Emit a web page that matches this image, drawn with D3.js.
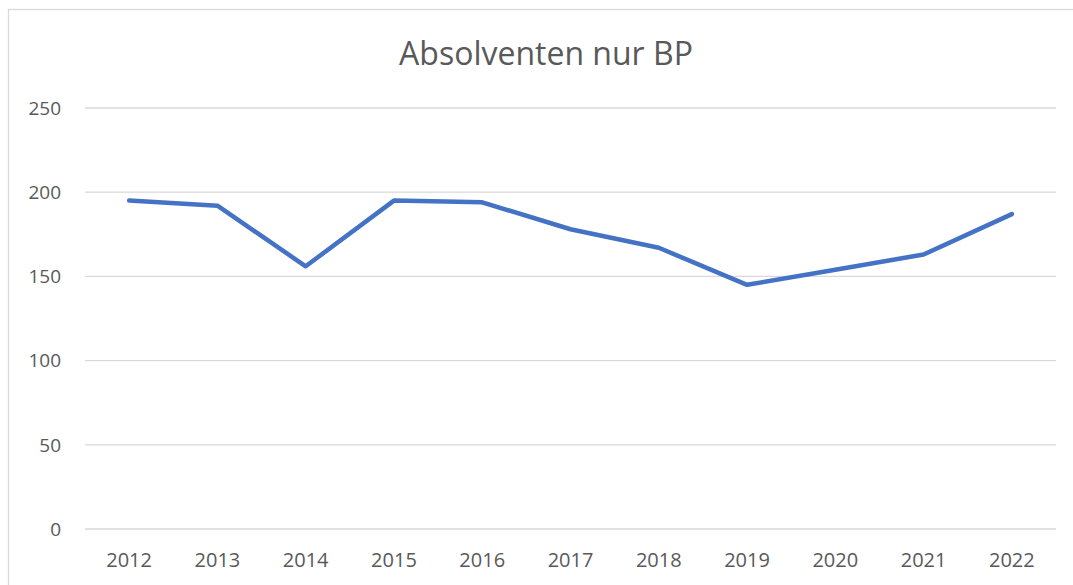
<!DOCTYPE html>
<html>
<head>
<meta charset="utf-8">
<script src="https://cdn.jsdelivr.net/npm/d3@7"></script>
<style>
  body { margin: 0; background: #fff; }
  text { font-family: "Open Sans", sans-serif; fill: #595959; }
</style>
</head>
<body>
<div id="graph-container"></div>
<script>
const years = ["2012", "2013", "2014", "2015", "2016", "2017", "2018", "2019", "2020", "2021", "2022"];
const absolventen = [195, 192, 156, 195, 194, 178, 167, 145, 154, 163, 187];
const yTicks = [0, 50, 100, 150, 200, 250];
const chartTitle = "Absolventen nur BP";

const width = 1073;
const height = 585;

const svg = d3.select("#graph-container")
    .append("svg")
    .attr("width", width)
    .attr("height", height);

// chart area border (continues beyond the window on the right and bottom)
svg.append("rect")
    .attr("x", 8.5)
    .attr("y", 9.5)
    .attr("width", 1100)
    .attr("height", 600)
    .attr("fill", "#fff")
    .attr("stroke", "#d9d9d9")
    .attr("stroke-width", 1.3);

const plotLeft = 85, plotRight = 1056, plotTop = 108, plotBottom = 529;

const xScale = d3.scaleBand()
    .domain(years)
    .range([plotLeft, plotRight]);

const yScale = d3.scaleLinear()
    .domain([0, 250])
    .range([plotBottom, plotTop]);

// gridlines
svg.append("g")
    .selectAll("line")
    .data(yTicks)
    .enter()
    .append("line")
    .attr("x1", plotLeft)
    .attr("x2", plotRight)
    .attr("y1", d => yScale(d))
    .attr("y2", d => yScale(d))
    .attr("stroke", "#d9d9d9")
    .attr("stroke-width", 1.3);

// y labels
svg.append("g")
    .selectAll("text")
    .data(yTicks)
    .enter()
    .append("text")
    .attr("x", 61)
    .attr("y", d => yScale(d))
    .attr("dy", "0.36em")
    .style("text-anchor", "end")
    .style("font-size", "19px")
    .text(d => d);

// x labels
svg.append("g")
    .selectAll("text")
    .data(years)
    .enter()
    .append("text")
    .attr("x", d => xScale(d) + xScale.bandwidth() / 2)
    .attr("y", 567)
    .style("text-anchor", "middle")
    .style("font-size", "20px")
    .text(d => d);

// line
const line = d3.line()
    .x((d, i) => xScale(years[i]) + xScale.bandwidth() / 2)
    .y(d => yScale(d));

svg.append("path")
    .datum(absolventen)
    .attr("d", line)
    .attr("fill", "none")
    .attr("stroke", "#4472c4")
    .attr("stroke-width", 4.5)
    .attr("stroke-linejoin", "round")
    .attr("stroke-linecap", "round");

// title
svg.append("text")
    .attr("x", 546)
    .attr("y", 65)
    .style("text-anchor", "middle")
    .style("font-size", "32px")
    .text(chartTitle);
</script>
</body>
</html>
